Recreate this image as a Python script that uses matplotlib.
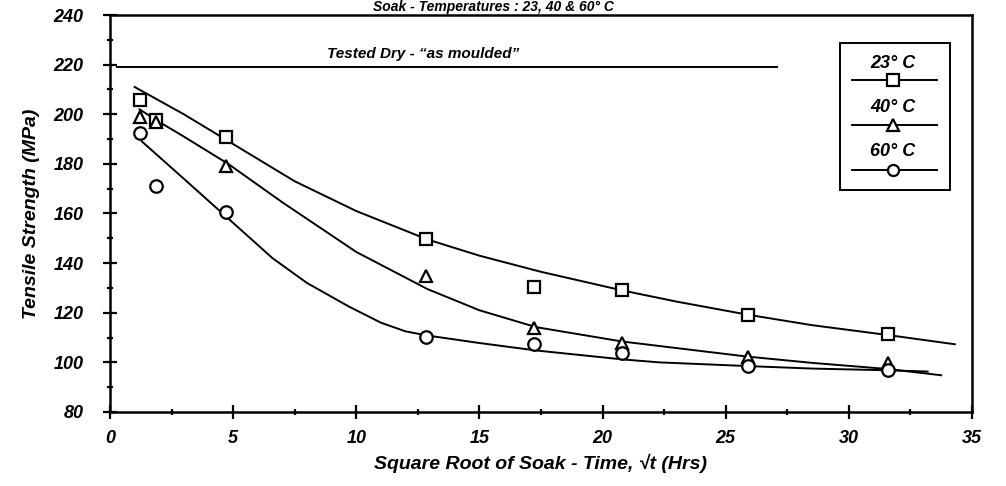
import matplotlib.pyplot as plt
from matplotlib.ticker import MultipleLocator

# measured points (sqrt of soak time in hrs^0.5, tensile strength MPa)
sqrt_t = [1.2, 1.86, 4.7, 12.85, 17.2, 20.77, 25.9, 31.6]
strength_23 = [205.8, 197.5, 191.0, 149.6, 130.5, 129.2, 119.2, 111.3]
strength_40 = [198.8, 196.8, 179.2, 134.8, 113.7, 107.9, 102.3, 99.6]
strength_60 = [192.6, 170.9, 160.8, 110.1, 107.4, 103.6, 98.7, 96.9]

# fitted curves as drawn on the chart
fit_x_23 = [1.0, 3, 5, 7.5, 10, 12.9, 15, 17.5, 20.8, 23, 25.9, 28.5, 31.6, 34.3]
fit_y_23 = [211, 200, 188, 173, 161, 149.5, 143, 136.5, 129, 124.5, 119.2, 115, 111, 107.3]
fit_x_40 = [1.2, 1.9, 3, 4.8, 7, 10, 12.9, 15, 17.3, 20.8, 22.3, 25.9, 28.5, 31.6, 33.75]
fit_y_40 = [202, 197.5, 191, 180, 164.5, 144.5, 129.5, 121, 114.2, 108.4, 106.6, 102.3, 99.8, 97.3, 94.8]
fit_x_60 = [1.3, 3, 4.8, 6.6, 8, 9.7, 11, 12, 12.9, 15, 17.3, 20.8, 22.3, 25.9, 28.5, 31.6, 33.2]
fit_y_60 = [189, 174, 158, 142, 132, 122.5, 116, 112.5, 110.8, 107.8, 104.8, 101.2, 100, 98.5, 97.5, 96.8, 96.3]

dry_strength = 219
dry_x = [0.3, 27.1]

temps = ["23° C", "40° C", "60° C"]
markers = ["s", "^", "o"]

plt.rcParams['font.family'] = ['Liberation Sans', 'DejaVu Sans']
fnt = dict(fontweight='bold', fontstyle='italic')

fig = plt.figure(figsize=(10.06, 4.86), dpi=100)
ax = fig.add_axes([0.1093, 0.1523, 0.8569, 0.8168])

ax.plot(fit_x_23, fit_y_23, color='black', lw=1.4)
ax.plot(fit_x_40, fit_y_40, color='black', lw=1.4)
ax.plot(fit_x_60, fit_y_60, color='black', lw=1.4)

for ys, m in zip([strength_23, strength_40, strength_60], markers):
    ax.plot(sqrt_t, ys, linestyle='none', marker=m, markersize=9,
            markerfacecolor='white', markeredgecolor='black', markeredgewidth=1.6)

ax.plot(dry_x, [dry_strength, dry_strength], color='black', lw=1.4)
ax.text(12.7, dry_strength + 2.5, "Tested Dry - \u201cas moulded\u201d", ha='center', va='bottom',
        fontsize=11, **fnt)

# legend drawn by hand: label above a line with the marker
ax.add_patch(plt.Rectangle((0.847, 0.559), 0.127, 0.37, transform=ax.transAxes,
                           fill=False, edgecolor='black', lw=1.4))
leg_text_y = [0.879, 0.766, 0.655]
leg_line_y = [0.836, 0.723, 0.610]
for lbl, m, ty, ly in zip(temps, markers, leg_text_y, leg_line_y):
    ax.text(0.908, ty, lbl, transform=ax.transAxes, ha='center', va='center', fontsize=13, **fnt)
    ax.plot([0.861, 0.959], [ly, ly], transform=ax.transAxes, color='black', lw=1.4)
    ax.plot([0.908], [ly], transform=ax.transAxes, marker=m, markersize=8,
            markerfacecolor='white', markeredgecolor='black', markeredgewidth=1.6)

ax.set_xlim(0, 35)
ax.set_ylim(80, 240)
ax.xaxis.set_major_locator(MultipleLocator(5))
ax.xaxis.set_minor_locator(MultipleLocator(2.5))
ax.yaxis.set_major_locator(MultipleLocator(20))
ax.yaxis.set_minor_locator(MultipleLocator(10))
ax.tick_params(which='major', direction='inout', length=10, width=1.6, labelsize=13)
ax.tick_params(which='minor', direction='inout', length=5, width=1.6)
ax.tick_params(axis='y', pad=14)
ax.tick_params(axis='x', pad=8)
for lab in ax.get_xticklabels() + ax.get_yticklabels():
    lab.set_fontweight('bold')
    lab.set_fontstyle('italic')
for s in ax.spines.values():
    s.set_linewidth(1.8)

ax.set_xlabel("Square Root of Soak - Time, \u221at (Hrs)", fontsize=14, labelpad=5, **fnt)
ax.set_ylabel("Tensile Strength (MPa)", fontsize=14, labelpad=10, **fnt)

fig.text(0.49, 0.999, "Soak - Temperatures : 23, 40 & 60° C", ha='center', va='top',
         fontsize=10, **fnt)

fig.savefig("out.png", dpi=100)
